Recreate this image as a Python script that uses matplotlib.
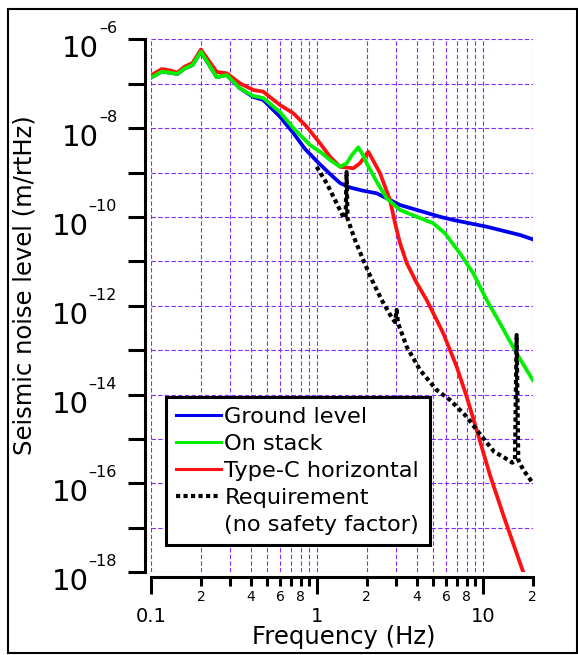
import numpy as np
import matplotlib.pyplot as plt
from matplotlib.lines import Line2D
from matplotlib.ticker import FixedLocator, FuncFormatter, NullLocator, NullFormatter

# ---------------- data (Hz, m/rtHz)
ground_f = [0.101, 0.116, 0.130, 0.144, 0.160, 0.178, 0.2, 0.249, 0.286, 0.344,
            0.414, 0.475, 0.599, 0.721, 0.848, 1.015, 1.20, 1.378, 1.583, 1.870,
            2.294, 2.635, 3.169, 3.997, 5.521, 6.642, 10.56, 16.76, 20.0]
ground_v = [1.40e-7, 1.87e-7, 1.77e-7, 1.66e-7, 2.22e-7, 2.64e-7, 5.26e-7, 1.40e-7, 1.57e-7, 7.88e-8,
            5.02e-8, 4.30e-8, 1.81e-8, 7.78e-9, 3.40e-9, 1.70e-9, 9.28e-10, 5.82e-10, 4.61e-10, 3.95e-10,
            3.41e-10, 2.63e-10, 1.86e-10, 1.44e-10, 1.01e-10, 8.55e-11, 6.04e-11, 3.93e-11, 3.14e-11]

stack_f = [0.101, 0.116, 0.130, 0.144, 0.160, 0.178, 0.2, 0.249, 0.286, 0.344,
           0.414, 0.475, 0.599, 0.721, 0.909, 1.069, 1.20, 1.378, 1.512, 1.627,
           1.776, 1.896, 1.996, 2.294, 2.635, 3.169, 3.997, 5.030, 5.919, 7.290,
           8.765, 10.56, 12.70, 16.0, 20.0]
stack_v = [1.40e-7, 1.87e-7, 1.77e-7, 1.66e-7, 2.22e-7, 2.64e-7, 5.26e-7, 1.40e-7, 1.57e-7, 7.88e-8,
           5.29e-8, 4.77e-8, 2.31e-8, 1.01e-8, 4.17e-9, 2.76e-9, 1.92e-9, 1.35e-9, 1.62e-9, 2.48e-9,
           3.70e-9, 2.48e-9, 1.62e-9, 6.23e-10, 2.63e-10, 1.44e-10, 1.01e-10, 7.21e-11, 4.29e-11, 1.52e-11,
           5.40e-12, 1.35e-12, 4.04e-13, 8.53e-14, 2.14e-14]

typec_f = [0.101, 0.116, 0.130, 0.144, 0.160, 0.178, 0.2, 0.249, 0.286, 0.344,
           0.414, 0.475, 0.599, 0.721, 0.868, 1.044, 1.20, 1.378, 1.657, 1.819,
           2.041, 2.40, 2.758, 2.957, 3.169, 3.478, 3.997, 4.589, 5.273, 5.780,
           6.963, 7.997, 9.188, 11.05, 13.61, 17.55]
typec_v = [1.57e-7, 2.14e-7, 1.99e-7, 1.79e-7, 2.44e-7, 2.93e-7, 5.89e-7, 1.84e-7, 1.72e-7, 1.02e-7,
           7.22e-8, 6.61e-8, 3.32e-8, 2.16e-8, 1.08e-8, 4.56e-9, 2.28e-9, 1.35e-9, 1.25e-9, 1.62e-9,
           2.95e-9, 9.77e-10, 2.41e-10, 7.32e-11, 2.60e-11, 9.20e-12, 3.27e-12, 1.35e-12, 4.80e-13, 2.40e-13,
           4.26e-14, 9.00e-15, 1.60e-15, 1.55e-16, 1.51e-17, 1.0e-18]

req_f = [0.997, 1.146, 1.316, 1.443, 1.49, 1.51, 1.53, 1.697, 1.904, 2.148,
         2.458, 2.836, 2.957, 3.027, 3.083, 3.478, 4.183, 5.273, 6.345, 7.997,
         9.188, 11.68, 13.61, 15.06, 15.63, 16.0, 16.37, 17.57, 20.0]
req_v = [1.35e-9, 5.73e-10, 2.03e-10, 1.01e-10, 9.6e-11, 1.03e-9, 9.2e-11, 3.03e-11, 1.07e-11, 3.81e-12,
         1.35e-12, 5.32e-13, 4.32e-13, 8.05e-13, 4.10e-13, 1.20e-13, 3.59e-14, 1.27e-14, 7.59e-15, 3.19e-15,
         1.60e-15, 5.22e-16, 3.75e-16, 2.94e-16, 3.21e-16, 2.20e-13, 3.38e-16, 2.01e-16, 1.03e-16]

labels = ["Ground level", "On stack", "Type-C horizontal", "Requirement", "(no safety factor)"]
x_minor = [0.2, 0.3, 0.4, 0.5, 0.6, 0.7, 0.8, 0.9, 2, 3, 4, 5, 6, 7, 8, 9, 20]
y_exp = list(range(-18, -5))

grid_c = '#8030ff'
blue, green, red = '#0000f0', '#00f000', '#ff1010'

W, H = 578, 655
fig = plt.figure(figsize=(W / 100, H / 100), dpi=100)
ax = fig.add_axes([151 / W, 1 - 572.3 / H, (532.7 - 151) / W, (572.3 - 39.3) / H])

ax.plot(ground_f, ground_v, color=blue, lw=2.7, zorder=3)
ax.plot(typec_f, typec_v, color=red, lw=2.7, zorder=4)
ax.plot(stack_f, stack_v, color=green, lw=2.7, zorder=5)
ax.plot(req_f, req_v, color='black', lw=3, ls=(0, (1, 0.8)), zorder=6)

ax.set_xscale('log')
ax.set_yscale('log')
ax.set_xlim(0.1, 20)
ax.set_ylim(1e-18, 1e-6)

# x ticks
ax.xaxis.set_major_locator(FixedLocator([0.1, 1, 10]))
ax.xaxis.set_major_formatter(FuncFormatter(lambda v, p: '%g' % v))
ax.xaxis.set_minor_locator(FixedLocator(x_minor))


def minor_lab(v, p):
    d = int(round(v / 10 ** np.floor(np.log10(v) + 1e-9)))
    return str(d) if d in (2, 4, 6, 8) else ''


ax.xaxis.set_minor_formatter(FuncFormatter(minor_lab))

# y ticks (labels drawn by hand below: big "10", small exponent)
ax.yaxis.set_major_locator(FixedLocator([10.0 ** e for e in y_exp]))
ax.yaxis.set_major_formatter(NullFormatter())
ax.yaxis.set_minor_locator(NullLocator())

ax.tick_params(axis='x', which='major', length=12.5, width=2.2, labelsize=14, pad=9, direction='out')
ax.tick_params(axis='x', which='minor', length=6.5, width=2.2, labelsize=10, pad=3, direction='out')
ax.tick_params(axis='y', which='major', length=12.5, width=2.2, direction='out')

ax.grid(which='major', axis='both', color=grid_c, ls=(0, (4, 2)), lw=0.8)
ax.grid(which='minor', axis='x', color=grid_c, ls=(0, (4, 2)), lw=0.8)

for s in ['top', 'right']:
    ax.spines[s].set_visible(False)
for s in ['left', 'bottom']:
    ax.spines[s].set_linewidth(2.2)
ax.spines['left'].set_position(('outward', 4.3))
ax.spines['bottom'].set_position(('outward', 3.6))

renderer = fig.canvas.get_renderer()
x_right = 117
for e in y_exp:
    if e % 2:
        continue
    ypix = ax.transData.transform((1, 10.0 ** e))[1]
    sup = fig.text(x_right / W, (ypix + 6) / H, '\u2013%d' % -e, fontsize=11.5,
                   ha='right', va='baseline')
    w = sup.get_window_extent(renderer).width
    fig.text((x_right - w) / W, (ypix - 18) / H, '10', fontsize=21,
             ha='right', va='baseline')

# legend
handles = [Line2D([], [], color=blue, lw=2.2),
           Line2D([], [], color=green, lw=2.2),
           Line2D([], [], color=red, lw=2.2),
           Line2D([], [], color='black', lw=3, ls=(0, (1, 0.8))),
           Line2D([], [], color='none')]
leg = ax.legend(handles, labels, loc='upper left',
                bbox_to_anchor=(166 / W, 1 - 397 / H), bbox_transform=fig.transFigure,
                borderaxespad=0, fancybox=False, edgecolor='black', framealpha=1,
                fontsize=16.2, handlelength=2.0, handletextpad=0.15,
                labelspacing=0.31, borderpad=0.45)
leg.get_frame().set_linewidth(2.2)
leg.set_zorder(10)

fig.text(25 / W, 1 - 285 / H, 'Seismic noise level (m/rtHz)', rotation=90,
         ha='center', va='center', fontsize=17.5)
fig.text(344 / W, 1 - 637 / H, 'Frequency (Hz)', ha='center', va='center', fontsize=17.5)

# outer frame
fig.patches.append(plt.Rectangle((8 / W, 2 / H), 569 / W, 644 / H, transform=fig.transFigure,
                                 fill=False, lw=1.5, ec='black'))

fig.savefig('out.png', dpi=100)
